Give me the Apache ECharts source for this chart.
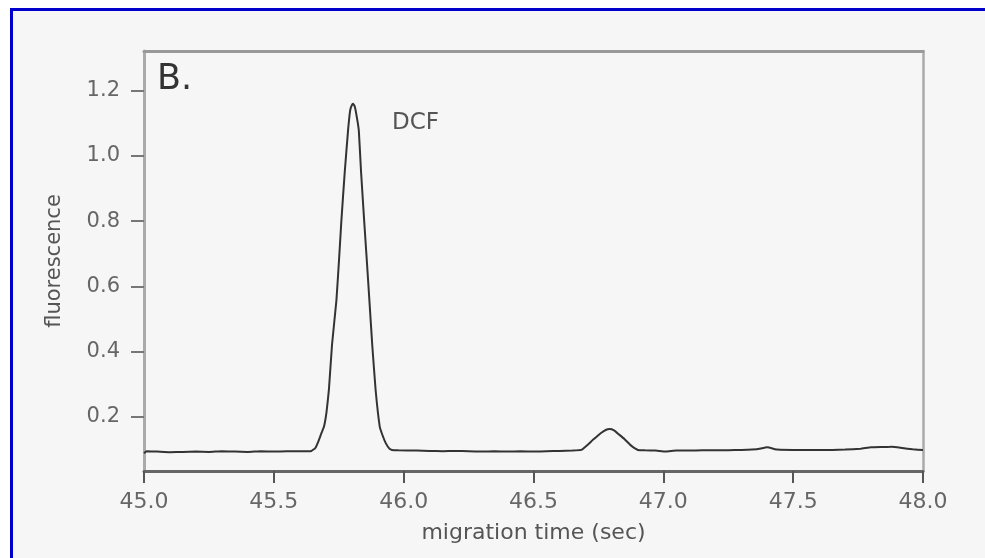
<!DOCTYPE html>
<html>
<head>
<meta charset="utf-8">
<script src="https://cdn.jsdelivr.net/npm/echarts@6/dist/echarts.min.js"></script>
<style>
  html, body { margin:0; padding:0; background:#ffffff; }
  #frame { position:absolute; left:10px; top:8px; width:975px; height:550px;
           border-top:3px solid #0000cc; border-left:3px solid #0000cc;
           background:#f6f6f6; box-sizing:border-box; }
  #chart { position:absolute; left:0; top:0; width:985px; height:558px; }
</style>
</head>
<body>
<div id="frame"></div>
<div id="chart"></div>
<script>
// migration time (sec)
const times = [45.00, 45.01, 45.05, 45.10, 45.15, 45.20, 45.25, 45.30, 45.35, 45.40, 45.45, 45.50, 45.55, 45.60,
  45.645, 45.660, 45.672, 45.683, 45.693, 45.703, 45.712, 45.724, 45.741, 45.751, 45.760, 45.773, 45.786, 45.794,
  45.800, 45.805, 45.810, 45.815, 45.827, 45.836, 45.848, 45.858, 45.868, 45.879, 45.892, 45.908, 45.920, 45.931,
  45.945, 45.955, 45.98, 46.05, 46.10, 46.15, 46.20, 46.25, 46.30, 46.35, 46.40, 46.45, 46.50, 46.55, 46.60, 46.65,
  46.684, 46.71, 46.729, 46.76, 46.78, 46.793, 46.81, 46.83, 46.851, 46.875, 46.902, 46.93, 46.97, 47.01, 47.05,
  47.10, 47.15, 47.20, 47.25, 47.30, 47.36, 47.40, 47.44, 47.50, 47.55, 47.60, 47.65, 47.70, 47.76, 47.80, 47.85,
  47.88, 47.92, 47.96, 48.00];
// fluorescence
const fluorescence = [0.088, 0.094, 0.093, 0.091, 0.092, 0.093, 0.092, 0.094, 0.093, 0.092, 0.094, 0.093, 0.094, 0.094,
  0.095, 0.104, 0.125, 0.149, 0.169, 0.215, 0.282, 0.42, 0.557, 0.68, 0.80, 0.95, 1.08, 1.14,
  1.155, 1.16, 1.155, 1.14, 1.08, 0.95, 0.80, 0.68, 0.557, 0.42, 0.282, 0.169, 0.14, 0.119,
  0.102, 0.098, 0.097, 0.096, 0.095, 0.094, 0.095, 0.094, 0.093, 0.094, 0.093, 0.094, 0.093, 0.094, 0.095, 0.096,
  0.098, 0.115, 0.129, 0.150, 0.160, 0.162, 0.158, 0.145, 0.131, 0.112, 0.098, 0.097, 0.096, 0.093, 0.096,
  0.096, 0.097, 0.097, 0.097, 0.098, 0.100, 0.106, 0.099, 0.098, 0.098, 0.098, 0.098, 0.099, 0.102, 0.106, 0.107,
  0.108, 0.104, 0.100, 0.098];
const xTicks = [45.0, 45.5, 46.0, 46.5, 47.0, 47.5, 48.0];
const yTicks = [0.2, 0.4, 0.6, 0.8, 1.0, 1.2];
const panelLabel = 'B.';
const peakLabel = 'DCF';
const xTitle = 'migration time (sec)';
const yTitle = 'fluorescence';

const FONT = 'DejaVu Sans';
const chart = echarts.init(document.getElementById('chart'));
const data = times.map((t, i) => [t, fluorescence[i]]);

chart.setOption({
  animation: false,
  title: [
    { text: panelLabel, left: 152, top: 57,
      textStyle: { fontFamily: FONT, fontSize: 35, fontWeight: 'normal', color: '#333' } },
    { text: peakLabel, left: 387, top: 107,
      textStyle: { fontFamily: FONT, fontSize: 23, fontWeight: 'normal', color: '#555' } }
  ],
  grid: { left: 144, right: 62, top: 51, bottom: 87 },
  xAxis: [{
    type: 'value', min: 45, max: 48, position: 'bottom',
    axisLine: { show: true, onZero: false, lineStyle: { color: '#666', width: 3 } },
    axisTick: { show: true, inside: false, length: 12, customValues: xTicks,
                lineStyle: { color: '#555', width: 2 } },
    axisLabel: { fontFamily: FONT, fontSize: 22, color: '#666', margin: 20, customValues: xTicks,
                 formatter: v => v.toFixed(1) },
    splitLine: { show: false },
    name: xTitle, nameLocation: 'middle', nameGap: 51,
    nameTextStyle: { fontFamily: FONT, fontSize: 22, color: '#555' }
  }, {
    type: 'value', min: 45, max: 48, position: 'top',
    axisLine: { show: true, onZero: false, lineStyle: { color: '#999', width: 3 } },
    axisTick: { show: false }, axisLabel: { show: false }, splitLine: { show: false }
  }, {
    type: 'value', min: 45, max: 48, position: 'bottom', offset: 0,
    axisLine: { show: false, onZero: false },
    axisTick: { show: true, inside: false, length: 12, customValues: xTicks,
                lineStyle: { color: '#555', width: 2 } },
    axisLabel: { show: false }, splitLine: { show: false }
  }],
  yAxis: [{
    type: 'value', min: 0.0334, max: 1.322, position: 'left',
    axisLine: { show: true, onZero: false, lineStyle: { color: '#aaa', width: 3 } },
    axisTick: { show: true, inside: false, length: 13, customValues: yTicks,
                lineStyle: { color: '#777', width: 2 } },
    axisLabel: { fontFamily: FONT, fontSize: 21, color: '#666', margin: 24, customValues: yTicks,
                 formatter: v => v.toFixed(1) },
    splitLine: { show: false },
    name: yTitle, nameLocation: 'middle', nameGap: 79,
    nameTextStyle: { fontFamily: FONT, fontSize: 21, color: '#555' }
  }, {
    type: 'value', min: 0.0334, max: 1.322, position: 'right',
    axisLine: { show: true, onZero: false, lineStyle: { color: '#aaa', width: 2.5 } },
    axisTick: { show: false }, axisLabel: { show: false }, splitLine: { show: false }
  }],
  series: [{
    type: 'line', xAxisIndex: 0, yAxisIndex: 0, data: data,
    showSymbol: false, smooth: 0.1,
    lineStyle: { color: '#333', width: 2 }
  }]
});
</script>
</body>
</html>
